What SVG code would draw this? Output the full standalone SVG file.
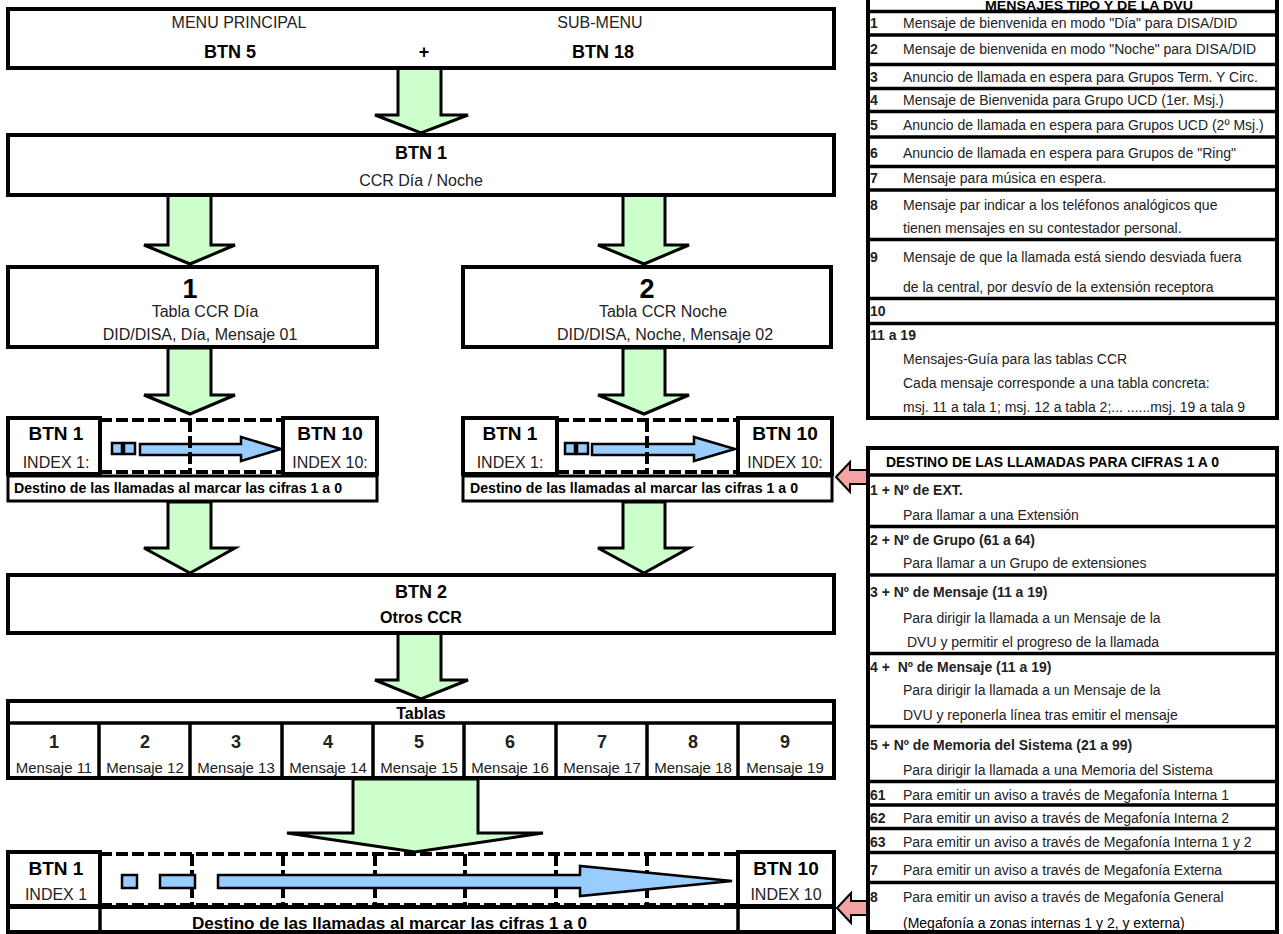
<svg xmlns="http://www.w3.org/2000/svg" width="1283" height="934" viewBox="0 0 1283 934">
<style>
.box{fill:#fff;stroke:#000;stroke-width:4}
.cell{fill:#fff;stroke:#000;stroke-width:3}
.sep{stroke:#000;stroke-width:3.5}
.dash{stroke:#000;stroke-width:4;stroke-dasharray:12 4;fill:none}
.g{fill:#ccffcc;stroke:#000;stroke-width:3;stroke-linejoin:miter}
.bl{fill:#99ccff;stroke:#000;stroke-width:2.5}
.pk{fill:#f4a3a3;stroke:#000;stroke-width:2}
text{font-family:"Liberation Sans",Arial,sans-serif;fill:#222}
.b{font-weight:bold;fill:#000}
.c{text-anchor:middle}
.r{font-size:14px;fill:#444}
.rb{font-size:14px;font-weight:bold;fill:#000}
</style>

<g id="connectors">
  <polygon class="g" points="398,68 441,68 441,115 468,115 421,133 375,115 398,115"/>
  <polygon class="g" points="168,195 211,195 211,245 235,245 190,264 144,245 168,245"/>
  <polygon class="g" points="623,195 665,195 665,245 689,245 644,264 598,245 623,245"/>
  <polygon class="g" points="168,348 211,348 211,395 235,395 190,414 144,395 168,395"/>
  <polygon class="g" points="623,348 665,348 665,395 689,395 644,414 598,395 623,395"/>
  <polygon class="g" points="168,502 211,502 211,548 235,548 190,573 144,548 168,548"/>
  <polygon class="g" points="623,502 665,502 665,548 689,548 644,573 598,548 623,548"/>
  <polygon class="g" points="398,633 441,633 441,680 468,680 421,699 375,680 398,680"/>
  <polygon class="g" points="353,779 478,779 478,833 543,833 415,852 287,833 353,833"/>
  <polygon class="pk" points="836,477 850,462 850,470 868,470 868,484 850,484 850,492"/>
  <polygon class="pk" points="837,908 851,893 851,901 868,901 868,915 851,915 851,923"/>
</g>

<g id="menu">
  <rect class="box" x="8" y="9" width="826" height="59"/>
  <text x="239" y="28" class="c" font-size="16">MENU PRINCIPAL</text>
  <text x="600" y="28" class="c" font-size="16">SUB-MENU</text>
  <text x="230" y="58" class="c b" font-size="18">BTN 5</text>
  <text x="424" y="58" class="c b" font-size="18">+</text>
  <text x="603" y="58" class="c b" font-size="18">BTN 18</text>
</g>

<g id="btn1">
  <rect class="box" x="8" y="135" width="826" height="60"/>
  <text x="421" y="159" class="c b" font-size="18">BTN 1</text>
  <text x="421" y="186" class="c" font-size="16">CCR Día / Noche</text>
</g>

<g id="tabla1">
  <rect class="box" x="8" y="267" width="369" height="80"/>
  <text x="190" y="298" class="c b" font-size="27">1</text>
  <text x="205" y="317" class="c" font-size="16">Tabla CCR Día</text>
  <text x="200" y="340" class="c" font-size="16">DID/DISA, Día, Mensaje 01</text>
</g>

<g id="tabla2">
  <rect class="box" x="463" y="267" width="368" height="80"/>
  <text x="647" y="298" class="c b" font-size="27">2</text>
  <text x="663" y="317" class="c" font-size="16">Tabla CCR Noche</text>
  <text x="665" y="340" class="c" font-size="16">DID/DISA, Noche, Mensaje 02</text>
</g>

<g id="index1">
  <rect class="cell" x="8" y="476" width="369" height="25"/>
  <line class="dash" x1="100" y1="420" x2="283" y2="420"/>
  <line class="dash" x1="100" y1="472" x2="283" y2="472"/>
  <rect class="bl" x="112" y="443" width="10" height="11"/>
  <rect class="bl" x="124" y="443" width="11" height="11"/>
  <polygon class="bl" points="140,444 241,444 241,437 281,449 241,461 241,455 140,455"/>
  <line class="dash" x1="190" y1="420" x2="190" y2="474"/>
  <rect class="box" x="8" y="418" width="92" height="56"/>
  <rect class="box" x="283" y="418" width="94" height="56"/>
  <text x="56" y="440" class="c b" font-size="19">BTN 1</text>
  <text x="56" y="468" class="c" font-size="16">INDEX 1:</text>
  <text x="330" y="440" class="c b" font-size="19">BTN 10</text>
  <text x="330" y="468" class="c" font-size="16">INDEX 10:</text>
  <text x="14" y="493" class="b" font-size="14" textLength="328" lengthAdjust="spacingAndGlyphs">Destino de las llamadas al marcar las cifras 1 a 0</text>
</g>

<g id="index2">
  <rect class="cell" x="463" y="476" width="369" height="25"/>
  <line class="dash" x1="557" y1="420" x2="738" y2="420"/>
  <line class="dash" x1="557" y1="472" x2="738" y2="472"/>
  <rect class="bl" x="565" y="443" width="10" height="11"/>
  <rect class="bl" x="577" y="443" width="11" height="11"/>
  <polygon class="bl" points="592,444 694,444 694,437 735,449 694,461 694,455 592,455"/>
  <line class="dash" x1="647" y1="420" x2="647" y2="474"/>
  <rect class="box" x="463" y="418" width="94" height="56"/>
  <rect class="box" x="738" y="418" width="94" height="56"/>
  <text x="510" y="440" class="c b" font-size="19">BTN 1</text>
  <text x="510" y="468" class="c" font-size="16">INDEX 1:</text>
  <text x="785" y="440" class="c b" font-size="19">BTN 10</text>
  <text x="785" y="468" class="c" font-size="16">INDEX 10:</text>
  <text x="470" y="493" class="b" font-size="14" textLength="328" lengthAdjust="spacingAndGlyphs">Destino de las llamadas al marcar las cifras 1 a 0</text>
</g>

<g id="btn2">
  <rect class="box" x="8" y="575" width="826" height="58"/>
  <text x="421" y="598" class="c b" font-size="18">BTN 2</text>
  <text x="421" y="623" class="c b" font-size="16">Otros CCR</text>
</g>

<g id="tablas">
  <rect class="box" x="8" y="701" width="826" height="77"/>
  <line class="sep" x1="8" y1="723" x2="834" y2="723"/>
  <g class="sep">
    <line x1="99" y1="723" x2="99" y2="778"/>
    <line x1="190" y1="723" x2="190" y2="778"/>
    <line x1="282" y1="723" x2="282" y2="778"/>
    <line x1="373" y1="723" x2="373" y2="778"/>
    <line x1="464" y1="723" x2="464" y2="778"/>
    <line x1="556" y1="723" x2="556" y2="778"/>
    <line x1="647" y1="723" x2="647" y2="778"/>
    <line x1="738" y1="723" x2="738" y2="778"/>
  </g>
  <text x="421" y="719" class="c b" font-size="16">Tablas</text>
  <g class="b" font-size="18" text-anchor="middle">
    <text x="54" y="748">1</text><text x="145" y="748">2</text><text x="236" y="748">3</text>
    <text x="328" y="748">4</text><text x="419" y="748">5</text><text x="510" y="748">6</text>
    <text x="602" y="748">7</text><text x="693" y="748">8</text><text x="785" y="748">9</text>
  </g>
  <g font-size="15" text-anchor="middle">
    <text x="54" y="773">Mensaje 11</text><text x="145" y="773">Mensaje 12</text><text x="236" y="773">Mensaje 13</text>
    <text x="328" y="773">Mensaje 14</text><text x="419" y="773">Mensaje 15</text><text x="510" y="773">Mensaje 16</text>
    <text x="602" y="773">Mensaje 17</text><text x="693" y="773">Mensaje 18</text><text x="785" y="773">Mensaje 19</text>
  </g>
</g>

<g id="index-final">
  <rect class="box" x="8" y="907" width="826" height="25"/>
  <line class="sep" x1="100" y1="907" x2="100" y2="932"/>
  <line class="sep" x1="738" y1="907" x2="738" y2="932"/>
  <line class="dash" x1="100" y1="854" x2="738" y2="854"/>
  <line class="dash" x1="100" y1="905" x2="738" y2="905"/>
  <g class="dash">
    <line x1="192" y1="854" x2="192" y2="905"/>
    <line x1="283" y1="854" x2="283" y2="905"/>
    <line x1="375" y1="854" x2="375" y2="905"/>
    <line x1="465" y1="854" x2="465" y2="905"/>
    <line x1="556" y1="854" x2="556" y2="905"/>
    <line x1="647" y1="854" x2="647" y2="905"/>
  </g>
  <rect class="bl" x="122" y="875" width="15" height="13"/>
  <rect class="bl" x="160" y="875" width="35" height="13"/>
  <polygon class="bl" points="218,875 580,875 580,866 732,881 580,896 580,888 218,888"/>
  <rect class="box" x="8" y="852" width="92" height="54"/>
  <rect class="box" x="738" y="852" width="96" height="54"/>
  <text x="56" y="875" class="c b" font-size="19">BTN 1</text>
  <text x="56" y="900" class="c" font-size="16">INDEX 1</text>
  <text x="786" y="875" class="c b" font-size="19">BTN 10</text>
  <text x="786" y="900" class="c" font-size="16">INDEX 10</text>
  <text x="192" y="929" class="b" font-size="17" textLength="395" lengthAdjust="spacingAndGlyphs">Destino de las llamadas al marcar las cifras 1 a 0</text>
</g>

<g id="mensajes-dvu">
  <rect class="box" x="868" y="-20" width="409" height="438"/>
  <g class="sep">
    <line x1="868" y1="11.5" x2="1277" y2="11.5"/>
    <line x1="868" y1="35" x2="1277" y2="35"/>
    <line x1="868" y1="64.5" x2="1277" y2="64.5"/>
    <line x1="868" y1="88.5" x2="1277" y2="88.5"/>
    <line x1="868" y1="111.5" x2="1277" y2="111.5"/>
    <line x1="868" y1="137" x2="1277" y2="137"/>
    <line x1="868" y1="166.5" x2="1277" y2="166.5"/>
    <line x1="868" y1="190" x2="1277" y2="190"/>
    <line x1="868" y1="239.5" x2="1277" y2="239.5"/>
    <line x1="868" y1="298.5" x2="1277" y2="298.5"/>
    <line x1="868" y1="323.5" x2="1277" y2="323.5"/>
  </g>
  <text x="1089" y="9.5" class="c b" font-size="12" textLength="208" lengthAdjust="spacingAndGlyphs">MENSAJES TIPO Y DE LA DVU</text>
  <g class="rb">
    <text x="870" y="28">1</text><text x="870" y="54">2</text><text x="870" y="82">3</text>
    <text x="870" y="105">4</text><text x="870" y="130">5</text><text x="870" y="158">6</text>
    <text x="870" y="183">7</text><text x="870" y="210">8</text><text x="870" y="262">9</text>
    <text x="870" y="316">10</text><text x="870" y="340">11 a 19</text>
  </g>
  <g class="r">
    <text x="903" y="28">Mensaje de bienvenida en modo "Día" para DISA/DID</text>
    <text x="903" y="54">Mensaje de bienvenida en modo "Noche" para DISA/DID</text>
    <text x="903" y="82">Anuncio de llamada en espera para Grupos Term. Y Circ.</text>
    <text x="903" y="105">Mensaje de Bienvenida para Grupo UCD (1er. Msj.)</text>
    <text x="903" y="130">Anuncio de llamada en espera para Grupos UCD (2º Msj.)</text>
    <text x="903" y="158">Anuncio de llamada en espera para Grupos de "Ring"</text>
    <text x="903" y="183">Mensaje para música en espera.</text>
    <text x="903" y="210">Mensaje par indicar a los teléfonos analógicos que</text>
    <text x="903" y="233">tienen mensajes en su contestador personal.</text>
    <text x="903" y="262">Mensaje de que la llamada está siendo desviada fuera</text>
    <text x="903" y="292">de la central, por desvío de la extensión receptora</text>
    <text x="903" y="364">Mensajes-Guía para las tablas CCR</text>
    <text x="903" y="388">Cada mensaje corresponde a una tabla concreta:</text>
    <text x="903" y="412">msj. 11 a tala 1; msj. 12 a tabla 2;... ......msj. 19 a tala 9</text>
  </g>
</g>

<g id="destino-llamadas">
  <rect class="box" x="868" y="448" width="409" height="484"/>
  <g class="sep">
    <line x1="868" y1="475" x2="1277" y2="475"/>
    <line x1="868" y1="526.5" x2="1277" y2="526.5"/>
    <line x1="868" y1="575" x2="1277" y2="575"/>
    <line x1="868" y1="653.5" x2="1277" y2="653.5"/>
    <line x1="868" y1="726.5" x2="1277" y2="726.5"/>
    <line x1="868" y1="781.5" x2="1277" y2="781.5"/>
    <line x1="868" y1="805" x2="1277" y2="805"/>
    <line x1="868" y1="828.5" x2="1277" y2="828.5"/>
    <line x1="868" y1="852.5" x2="1277" y2="852.5"/>
    <line x1="868" y1="882.5" x2="1277" y2="882.5"/>
  </g>
  <text x="886" y="467" class="rb" textLength="333" lengthAdjust="spacingAndGlyphs">DESTINO DE LAS LLAMADAS PARA CIFRAS 1 A 0</text>
  <g class="rb">
    <text x="870" y="495">1 + Nº de EXT.</text>
    <text x="870" y="545">2 + Nº de Grupo (61 a 64)</text>
    <text x="870" y="597">3 + Nº de Mensaje (11 a 19)</text>
    <text x="870" y="672" style="white-space:pre">4 +  Nº de Mensaje (11 a 19)</text>
    <text x="870" y="750">5 + Nº de Memoria del Sistema (21 a 99)</text>
    <text x="870" y="800">61</text><text x="870" y="823">62</text><text x="870" y="847">63</text>
    <text x="870" y="875">7</text><text x="870" y="902">8</text>
  </g>
  <g class="r">
    <text x="903" y="520">Para llamar a una Extensión</text>
    <text x="903" y="568">Para llamar a un Grupo de extensiones</text>
    <text x="903" y="623">Para dirigir la llamada a un Mensaje de la</text>
    <text x="907" y="647">DVU y permitir el progreso de la llamada</text>
    <text x="903" y="695">Para dirigir la llamada a un Mensaje de la</text>
    <text x="903" y="720">DVU y reponerla línea tras emitir el mensaje</text>
    <text x="903" y="775">Para dirigir la llamada a una Memoria del Sistema</text>
    <text x="903" y="800">Para emitir un aviso a través de Megafonía Interna 1</text>
    <text x="903" y="823">Para emitir un aviso a través de Megafonía Interna 2</text>
    <text x="903" y="847">Para emitir un aviso a través de Megafonía Interna 1 y 2</text>
    <text x="903" y="875">Para emitir un aviso a través de Megafonía Externa</text>
    <text x="903" y="902">Para emitir un aviso a través de Megafonía General</text>
  </g>
  <text x="903" y="928" font-size="14" style="fill:#000">(Megafonía a zonas internas 1 y 2, y externa)</text>
</g>
</svg>
